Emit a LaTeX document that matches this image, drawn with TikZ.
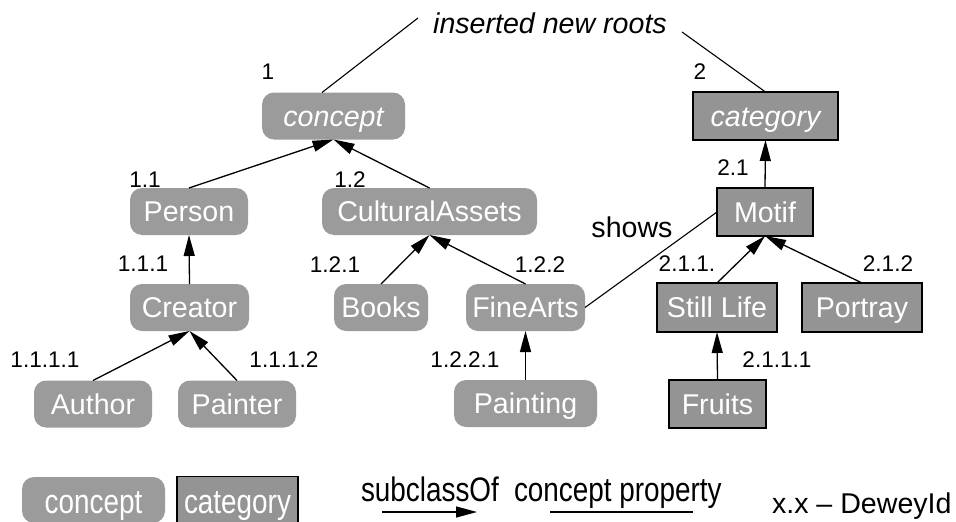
\documentclass[tikz,border=0pt]{standalone}
\usepackage{fontspec}
\setmainfont{Liberation Sans}
\newfontfamily\narrowsans[FakeStretch=0.82]{Liberation Sans}
\usetikzlibrary{arrows.meta}
\definecolor{conceptgray}{RGB}{155,155,155}
\definecolor{categorygray}{RGB}{148,148,148}
\begin{document}
\begin{tikzpicture}[x=1pt,y=-1pt,
  every node/.style={inner sep=0pt, outer sep=0pt},
  base/.style={text=white, font=\fontsize{28.6}{30}\selectfont,
    text height=20.5pt, text depth=0pt, minimum height=47pt, align=center},
  conceptbox/.style={base, fill=conceptgray, rounded corners=12pt},
  categorybox/.style={base, fill=categorygray, draw=black, line width=1.1pt},
  legendtext/.style={font=\narrowsans\fontsize{34}{36}\selectfont},
  legendbox/.style={legendtext, text height=27pt},
  dewey/.style={font=\fontsize{22.6}{24}\selectfont},
  plain/.style={font=\fontsize{28.6}{30}\selectfont},
  subclass/.style={line width=1.3pt, -{Triangle[length=21pt,width=11pt]}},
  relation/.style={line width=1.1pt}
]
\clip (0,0) rectangle (956,522);

% concept hierarchy
\node[conceptbox, minimum width=143pt] (concept) at (333.5,116) {\itshape concept};
\node[conceptbox, minimum width=118pt] (person) at (189,211.5) {Person};
\node[conceptbox, minimum width=215pt] (assets) at (429.5,211.5) {CulturalAssets};
\node[conceptbox, minimum width=119pt] (creator) at (189.5,307.5) {Creator};
\node[conceptbox, minimum width=94pt] (books) at (381,307.5) {Books};
\node[conceptbox, minimum width=119pt] (finearts) at (525.5,307.5) {FineArts};
\node[conceptbox, minimum width=118pt] (author) at (93,404) {Author};
\node[conceptbox, minimum width=118pt] (painter) at (237,404) {Painter};
\node[conceptbox, minimum width=143pt] (painting) at (525.5,403.5) {Painting};

% category hierarchy
\node[categorybox, minimum width=145pt, minimum height=48pt] (category) at (765.5,116) {\itshape category};
\node[categorybox, minimum width=96pt, minimum height=48pt] (motif) at (765,212) {Motif};
\node[categorybox, minimum width=120pt, minimum height=49pt] (stilllife) at (717,307.5) {Still Life};
\node[categorybox, minimum width=120pt, minimum height=49pt] (portray) at (862,307.5) {Portray};
\node[categorybox, minimum width=97pt, minimum height=48pt] (fruits) at (717.5,404) {Fruits};

% new roots
\node[plain, anchor=base] (roots) at (550,33) {\itshape inserted new roots};
\coordinate (rootsL) at (418,18);
\coordinate (rootsR) at (682,32);
\draw[relation] (rootsL) -- (concept.north -| 322,0);
\draw[relation] (rootsR) -- (category.north);

% subclass edges
\draw[subclass] (person.north) -- (concept.south);
\draw[subclass] (assets.north) -- (concept.south);
\draw[subclass] (creator.north) -- (person.south);
\draw[subclass] (author.north) -- (creator.south);
\draw[subclass] (painter.north) -- (creator.south);
\draw[subclass] (books.north) -- (assets.south);
\draw[subclass] (finearts.north) -- (assets.south);
\draw[subclass] (painting.north) -- (finearts.south);
\draw[subclass] (motif.north) -- (category.south);
\draw[subclass] (stilllife.north) -- (motif.south);
\draw[subclass] (portray.north) -- (motif.south);
\draw[subclass] (fruits.north) -- (stilllife.south);

% concept property
\draw[relation] (finearts.east) -- (motif.west);
\node[plain] (shows) at (632,227) {shows};

% Dewey identifiers
\node[dewey] (d1) at (268,72) {1};
\node[dewey] (d2) at (700,72) {2};
\node[dewey] (d11) at (145,180) {1.1};
\node[dewey] (d12) at (350,180) {1.2};
\node[dewey] (d21) at (733,168) {2.1};
\node[dewey] (d111) at (143,264) {1.1.1};
\node[dewey] (d121) at (335,265) {1.2.1};
\node[dewey] (d122) at (540,265) {1.2.2};
\node[dewey] (d211) at (687,264) {2.1.1.};
\node[dewey] (d212) at (888,264) {2.1.2};
\node[dewey] (d1111) at (45,360) {1.1.1.1};
\node[dewey] (d1112) at (284,360) {1.1.1.2};
\node[dewey] (d1221) at (465,360) {1.2.2.1};
\node[dewey] (d2111) at (777,360) {2.1.1.1};

% legend
\node[conceptbox, legendbox, minimum width=143pt, minimum height=46pt] (lgconcept) at (93.5,500) {concept};
\node[categorybox, legendbox, minimum width=121pt] (lgcategory) at (237.5,500) {category};
\node[legendtext, anchor=base west] (lgsub) at (361,501) {subclassOf};
\coordinate (subA) at (382,512);
\coordinate (subB) at (477,512);
\draw[subclass] (subA) -- (subB);
\node[legendtext, anchor=base west] (lgprop) at (514,501) {concept property};
\coordinate (propA) at (550,512);
\coordinate (propB) at (693,512);
\draw[relation] (propA) -- (propB);
\node[plain, anchor=base west] (lgdewey) at (772,513) {x.x -- DeweyId};
\end{tikzpicture}
\end{document}
